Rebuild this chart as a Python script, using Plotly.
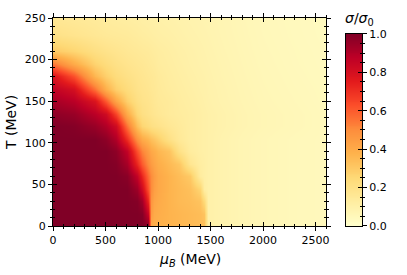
import plotly.graph_objects as go

# ---- data ----
MU = [0, 200, 400, 500, 600, 700, 800, 850, 900, 930, 960, 1000, 1100, 1200,
      1300, 1400, 1440, 1480, 1600, 1800, 2000, 2300, 2600]
T = [0, 15, 30, 45, 60, 75, 90, 105, 120, 135, 150, 165, 180, 195, 210, 230, 250]

Z = [
    [1, 1, 1, 1, 1, 1, 1, 1, 0.98, 0.40, 0.39, 0.38, 0.37, 0.36, 0.35, 0.34, 0.33, 0.10, 0.085, 0.07, 0.06, 0.05, 0.045],
    [1, 1, 1, 1, 1, 1, 1, 0.99, 0.85, 0.45, 0.40, 0.39, 0.37, 0.36, 0.35, 0.34, 0.32, 0.10, 0.085, 0.07, 0.06, 0.05, 0.045],
    [1, 1, 1, 1, 1, 1, 0.99, 0.93, 0.72, 0.47, 0.42, 0.40, 0.37, 0.35, 0.34, 0.32, 0.24, 0.10, 0.085, 0.07, 0.06, 0.05, 0.045],
    [1, 1, 1, 1, 1, 1, 0.94, 0.82, 0.62, 0.50, 0.44, 0.41, 0.37, 0.35, 0.33, 0.26, 0.12, 0.10, 0.085, 0.07, 0.06, 0.05, 0.045],
    [1, 1, 1, 1, 1, 0.98, 0.86, 0.72, 0.57, 0.50, 0.45, 0.41, 0.37, 0.34, 0.30, 0.13, 0.11, 0.10, 0.085, 0.07, 0.06, 0.05, 0.045],
    [1, 1, 1, 1, 0.99, 0.92, 0.72, 0.60, 0.50, 0.45, 0.42, 0.39, 0.35, 0.31, 0.17, 0.12, 0.11, 0.10, 0.085, 0.07, 0.06, 0.05, 0.045],
    [1, 1, 1, 1, 0.97, 0.86, 0.62, 0.52, 0.45, 0.41, 0.39, 0.36, 0.32, 0.20, 0.13, 0.11, 0.105, 0.10, 0.085, 0.07, 0.06, 0.05, 0.045],
    [1, 1, 1, 0.97, 0.90, 0.70, 0.48, 0.40, 0.36, 0.33, 0.31, 0.28, 0.20, 0.15, 0.12, 0.11, 0.105, 0.10, 0.085, 0.07, 0.06, 0.05, 0.045],
    [1, 0.99, 0.95, 0.90, 0.82, 0.55, 0.33, 0.26, 0.23, 0.21, 0.20, 0.19, 0.16, 0.14, 0.12, 0.11, 0.105, 0.10, 0.09, 0.075, 0.065, 0.055, 0.045],
    [0.97, 0.95, 0.88, 0.82, 0.65, 0.40, 0.25, 0.21, 0.19, 0.18, 0.17, 0.16, 0.14, 0.13, 0.12, 0.11, 0.105, 0.10, 0.09, 0.075, 0.065, 0.055, 0.045],
    [0.92, 0.88, 0.78, 0.60, 0.42, 0.28, 0.21, 0.19, 0.18, 0.17, 0.16, 0.15, 0.14, 0.125, 0.115, 0.105, 0.10, 0.095, 0.085, 0.072, 0.062, 0.052, 0.043],
    [0.86, 0.80, 0.55, 0.38, 0.28, 0.23, 0.19, 0.18, 0.17, 0.16, 0.155, 0.145, 0.13, 0.12, 0.11, 0.10, 0.097, 0.093, 0.083, 0.07, 0.06, 0.05, 0.042],
    [0.78, 0.62, 0.36, 0.28, 0.23, 0.20, 0.18, 0.17, 0.16, 0.155, 0.15, 0.14, 0.125, 0.115, 0.105, 0.097, 0.094, 0.09, 0.08, 0.068, 0.058, 0.048, 0.04],
    [0.55, 0.40, 0.27, 0.23, 0.20, 0.18, 0.165, 0.16, 0.15, 0.145, 0.14, 0.13, 0.12, 0.11, 0.10, 0.093, 0.09, 0.087, 0.078, 0.066, 0.056, 0.046, 0.039],
    [0.30, 0.26, 0.21, 0.19, 0.175, 0.16, 0.15, 0.145, 0.14, 0.135, 0.13, 0.125, 0.115, 0.105, 0.097, 0.09, 0.087, 0.084, 0.075, 0.064, 0.054, 0.045, 0.038],
    [0.20, 0.18, 0.16, 0.15, 0.145, 0.14, 0.13, 0.125, 0.12, 0.117, 0.114, 0.11, 0.104, 0.097, 0.09, 0.085, 0.083, 0.08, 0.072, 0.062, 0.052, 0.043, 0.036],
    [0.16, 0.15, 0.14, 0.13, 0.125, 0.12, 0.115, 0.11, 0.107, 0.104, 0.102, 0.10, 0.095, 0.09, 0.085, 0.08, 0.078, 0.076, 0.07, 0.06, 0.05, 0.042, 0.035],
]

X_TICKS = [0, 500, 1000, 1500, 2000, 2500]
Y_TICKS = [0, 50, 100, 150, 200, 250]
CB_TICKS = [0.0, 0.2, 0.4, 0.6, 0.8, 1.0]

YLORRD = [
    [0.0, "#ffffcc"], [0.125, "#ffeda0"], [0.25, "#fed976"], [0.375, "#feb24c"],
    [0.5, "#fd8d3c"], [0.625, "#fc4e2a"], [0.75, "#e31a1c"], [0.875, "#bd0026"],
    [1.0, "#800026"],
]

FONT = dict(family="DejaVu Sans", size=11, color="black")
TITLE_FONT = dict(family="DejaVu Sans", size=14, color="black")
N_CB = 200
cb_levels = [i / N_CB for i in range(N_CB + 1)]

fig = go.Figure()
fig.add_trace(go.Heatmap(x=MU, y=T, z=Z, colorscale=YLORRD, zmin=0, zmax=1,
                         zsmooth="best", showscale=False, hoverinfo="skip",
                         xaxis="x", yaxis="y"))
fig.add_trace(go.Scatter(x=[None], y=[None], xaxis="x2", yaxis="y2",
                         showlegend=False, hoverinfo="skip"))
fig.add_trace(go.Heatmap(x=[0, 1], y=cb_levels, z=[[v, v] for v in cb_levels],
                         colorscale=YLORRD, zmin=0, zmax=1, showscale=False,
                         hoverinfo="skip", xaxis="x3", yaxis="y3"))
fig.add_trace(go.Scatter(x=[None], y=[None], xaxis="x3", yaxis="y4",
                         showlegend=False, hoverinfo="skip"))

base = dict(showline=True, linecolor="black", linewidth=1, tickcolor="black",
            tickwidth=1, showgrid=False, zeroline=False, tickfont=FONT)
XD = [0, 0.8426]

fig.update_layout(
    width=407, height=275, autosize=False,
    margin=dict(l=53, r=30, t=16, b=49),
    paper_bgcolor="white", plot_bgcolor="white",
    showlegend=False,
    font=FONT,
    xaxis=dict(base, domain=XD, range=[0, 2600], anchor="y",
               tickvals=X_TICKS, ticks="outside", ticklen=4, mirror="ticks",
               minor=dict(ticks="outside", ticklen=2, dtick=100, tick0=0,
                          tickcolor="black", showgrid=False)),
    yaxis=dict(base, domain=[0, 1], range=[0, 250], anchor="x",
               tickvals=Y_TICKS, ticks="outside", ticklen=4, mirror="ticks",
               minor=dict(ticks="outside", ticklen=2, dtick=10, tick0=0,
                          tickcolor="black", showgrid=False)),
    xaxis2=dict(base, overlaying="x", range=[0, 2600], anchor="y2",
                tickvals=X_TICKS, ticks="inside", ticklen=4, mirror="ticks",
                showticklabels=False,
                minor=dict(ticks="inside", ticklen=2, dtick=100, tick0=0,
                           tickcolor="black", showgrid=False)),
    yaxis2=dict(base, overlaying="y", range=[0, 250], anchor="x2",
                tickvals=Y_TICKS, ticks="inside", ticklen=4, mirror="ticks",
                showticklabels=False,
                minor=dict(ticks="inside", ticklen=2, dtick=10, tick0=0,
                           tickcolor="black", showgrid=False)),
    xaxis3=dict(base, domain=[0.904, 0.954], range=[0, 1], anchor="y3",
                ticks="", showticklabels=False, mirror=True),
    yaxis3=dict(base, domain=[0, 0.924], range=[0, 1], anchor="x3",
                side="right", tickvals=CB_TICKS, tickformat=".1f",
                ticks="outside", ticklen=4, mirror=True,
                minor=dict(ticks="outside", ticklen=2, dtick=0.05, tick0=0,
                           tickcolor="black", showgrid=False)),
    yaxis4=dict(base, overlaying="y3", range=[0, 1], anchor="x3",
                side="right", tickvals=CB_TICKS, ticks="inside", ticklen=4,
                showticklabels=False,
                minor=dict(ticks="inside", ticklen=2, dtick=0.05, tick0=0,
                           tickcolor="black", showgrid=False)),
    annotations=[
        dict(text="<i>μ</i><sub><i>B</i></sub> (MeV)", x=0.4213, y=-0.162,
             xref="paper", yref="paper", showarrow=False,
             xanchor="center", yanchor="middle", font=TITLE_FONT),
        dict(text="T (MeV)", x=-0.1296, y=0.495, textangle=-90,
             xref="paper", yref="paper", showarrow=False,
             xanchor="center", yanchor="middle", font=TITLE_FONT),
        dict(text="<i>σ</i>/<i>σ</i><sub>0</sub>", x=0.946, y=0.995,
             xref="paper", yref="paper", showarrow=False,
             xanchor="center", yanchor="middle", font=TITLE_FONT),
    ],
)

fig.write_html("out.html",
               config={"displayModeBar": False, "staticPlot": True},
               post_script="document.body.style.margin='0px';"
                           "document.body.style.overflow='hidden';")
